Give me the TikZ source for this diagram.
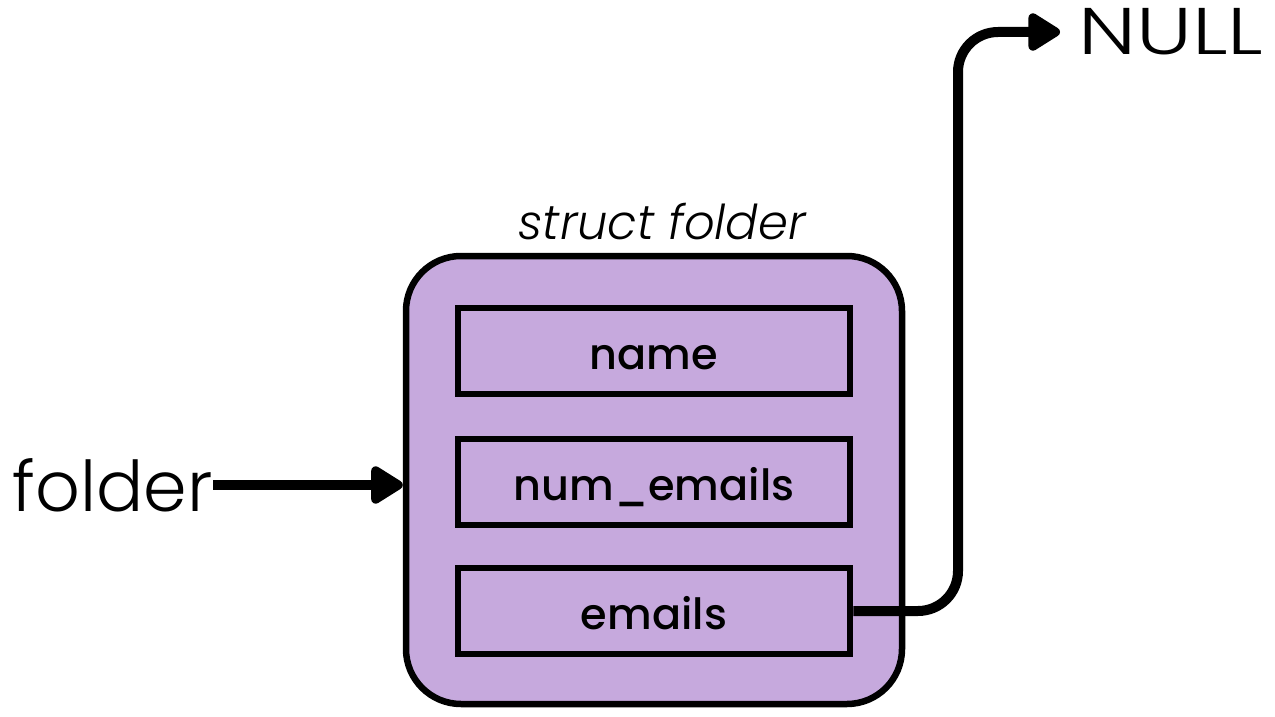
\documentclass[tikz,border=0pt]{standalone}
\usepackage{fontspec}
\setmainfont{Poppins}
\newfontfamily\thinfont{Poppins Light}[ItalicFont={Poppins Light Italic}]
\newfontfamily\widefont{Poppins Light}[FakeStretch=1.28]
\newfontfamily\fieldfont{Poppins Medium}
\usetikzlibrary{arrows.meta}
\definecolor{structfill}{HTML}{C6A9DD}
\tikzset{
  outerbox/.style={draw=black, fill=structfill, line width=6.5pt, rounded corners=55pt,
    minimum width=496pt, minimum height=448pt, inner sep=0pt},
  field/.style={draw=black, fill=structfill, line width=6.5pt, minimum width=392pt,
    minimum height=86pt, inner sep=0pt, text height=44pt, text depth=8pt,
    font=\fieldfont\fontsize{43}{46}\selectfont},
  label/.style={inner sep=0pt, font=\thinfont\fontsize{70}{76}\selectfont},
  conn/.style={line width=10pt, -{Triangle[length=36pt,width=42pt,round]}},
}
\begin{document}
\begin{tikzpicture}[x=1pt, y=-1pt]
  \useasboundingbox (0,0) rectangle (1275,717);
  % struct with its three members
  \node[outerbox] (box) at (654,480) {};
  \node[inner sep=0pt, font=\thinfont\itshape\fontsize{48}{52}\selectfont] (title) at (662,222) {struct folder};
  \node[field] (name) at (654,351) {name};
  \node[field] (num) at (654,482) {num\_emails};
  \node[field] (emails) at (654,611) {emails};
  % pointer variable and the NULL target
  \node[label, anchor=east] (folder) at (213,485) {folder};
  \node[label, anchor=west, font=\widefont\fontsize{66}{72}\selectfont] (null) at (1078,32) {NULL};
  % connectors
  \draw[conn] (folder.east) -- (folder.east -| box.west);
  \draw[conn, rounded corners=40pt, shorten >=18pt] (emails.east) -| ([xshift=-120pt]null.west) -- (null.west);
\end{tikzpicture}
\end{document}
